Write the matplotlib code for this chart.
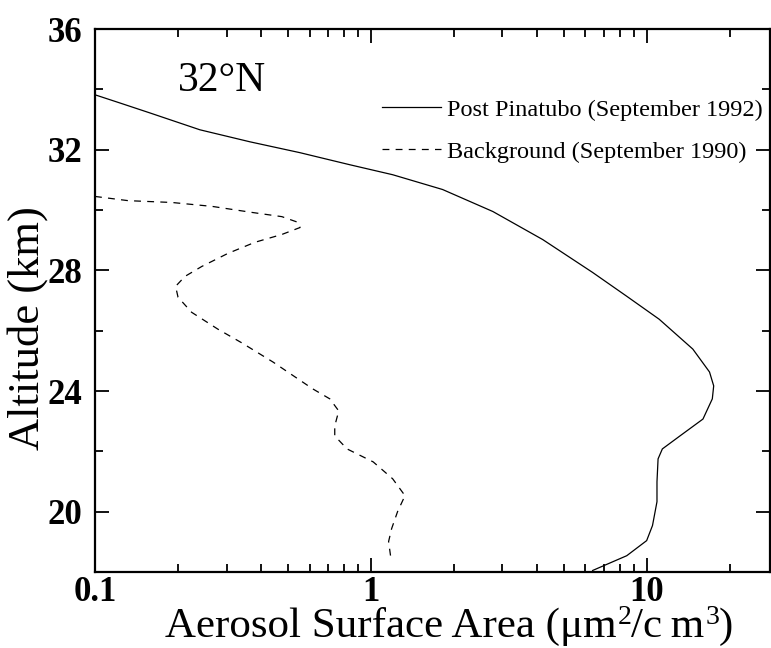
import matplotlib.pyplot as plt
from matplotlib.lines import Line2D
from matplotlib.ticker import LogLocator, MultipleLocator, NullFormatter

plt.rcParams['font.family'] = ['Liberation Serif', 'DejaVu Serif']

# Post Pinatubo profile, September 1992 (surface area, altitude km)
post_area = [0.1, 0.123, 0.158, 0.24, 0.365, 0.554, 0.654, 0.84, 1.2, 1.82,
             2.77, 4.2, 6.37, 8.47, 11.1, 14.7, 16.9, 17.5, 17.3, 16.0, 13.2,
             11.4, 11.0, 10.9, 10.9, 10.5, 10.0, 8.47, 6.37]
post_alt = [33.82, 33.55, 33.22, 32.66, 32.26, 31.9, 31.74, 31.5, 31.17,
            30.68, 29.95, 29.02, 27.93, 27.14, 26.38, 25.39, 24.63, 24.17,
            23.74, 23.07, 22.51, 22.08, 21.75, 20.99, 20.33, 19.54, 19.04,
            18.54, 18.05]

# Background profile, September 1990
bg_area = [0.1, 0.132, 0.19, 0.266, 0.371, 0.476, 0.545, 0.554, 0.476, 0.38,
           0.303, 0.244, 0.212, 0.196, 0.2, 0.224, 0.279, 0.34, 0.442, 0.616,
           0.71, 0.765, 0.74, 0.74, 0.82, 1.02, 1.2, 1.33, 1.25, 1.19, 1.16,
           1.18]
bg_alt = [30.45, 30.31, 30.25, 30.12, 29.92, 29.78, 29.59, 29.42, 29.19,
          28.93, 28.56, 28.13, 27.8, 27.47, 27.11, 26.61, 26.05, 25.6, 24.96,
          24.07, 23.74, 23.34, 22.84, 22.51, 22.08, 21.65, 21.09, 20.53, 20.0,
          19.44, 19.01, 18.51]

fig = plt.figure(figsize=(7.71, 6.48), dpi=100)
ax = fig.add_axes([0.1232, 0.1173, 0.8755, 0.8379])

dash = (5.5, 5)
ax.plot(post_area, post_alt, color='black', lw=0.9)
ax.plot(bg_area, bg_alt, color='black', lw=0.9, dashes=dash)

ax.set_xscale('log')
ax.set_xlim(0.1, 28)
ax.set_ylim(18, 36)

ax.set_xticks([0.1, 1, 10], labels=['0.1', '1', '10'])
ax.xaxis.set_minor_locator(LogLocator(base=10, subs=range(2, 10)))
ax.xaxis.set_minor_formatter(NullFormatter())
ax.set_yticks([20, 24, 28, 32, 36])
ax.yaxis.set_minor_locator(MultipleLocator(2))

ax.tick_params(which='both', direction='in', top=True, right=True,
               width=1.3)
ax.tick_params(which='major', length=10, labelsize=25)
ax.tick_params(axis='y', which='major', pad=9)
ax.tick_params(axis='x', which='major', pad=3)
ax.tick_params(which='minor', length=6)
for lab in ax.get_xticklabels() + ax.get_yticklabels():
    lab.set_fontweight('bold')
for sp in ax.spines.values():
    sp.set_linewidth(1.6)

# x label built from pieces so the exponents sit low like the printed units
base = ax.text(0.104, -0.119, 'Aerosol Surface Area (μm', transform=ax.transAxes,
               fontsize=31, ha='left', va='baseline', clip_on=False)
pieces = [('2', 20, 11), ('/c\u2009m', 31, 0), ('3', 20, 11), (')', 31, 0)]
prev = base
for s, size, dy in pieces:
    prev = ax.annotate(s, xy=(1, 0), xycoords=(prev, base),
                       xytext=(0.5 if size < 30 else 0, dy),
                       textcoords='offset points', fontsize=size,
                       ha='left', va='bottom', annotation_clip=False)

ax.set_ylabel('Altitude (km)', fontsize=32)
ax.yaxis.set_label_coords(-0.07, 0.449)

ax.text(0.123, 0.905, '32°N', transform=ax.transAxes, fontsize=30,
        ha='left', va='center')

handles = [Line2D([], [], color='black', lw=0.9),
           Line2D([], [], color='black', lw=0.9, dashes=dash)]
ax.legend(handles, ['Post Pinatubo (September 1992)',
                    'Background (September 1990)'],
          loc='upper right', bbox_to_anchor=(0.99, 0.872), frameon=False,
          fontsize=17.5, handlelength=2.43, handletextpad=0.25,
          labelspacing=0.83, borderaxespad=0, borderpad=0)

fig.savefig('out.png', dpi=100)
